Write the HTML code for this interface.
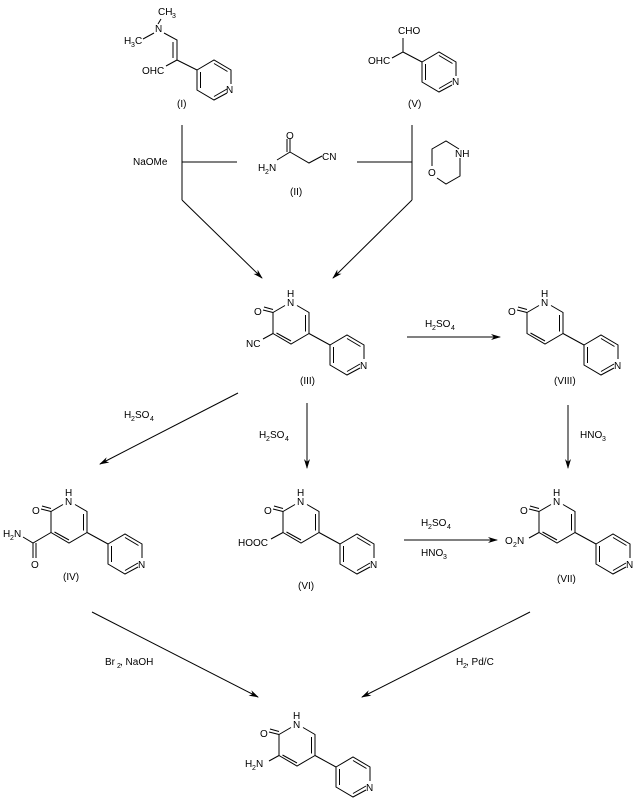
<!DOCTYPE html>
<html><head><meta charset="utf-8"><style>
html,body{margin:0;padding:0;background:#fff;}
svg{display:block;}
text{font-family:"Liberation Sans",sans-serif;font-size:10px;fill:#000;}
</style></head><body>
<svg width="634" height="806" viewBox="0 0 634 806" xmlns="http://www.w3.org/2000/svg">
<defs>
<marker id="ah" markerWidth="10" markerHeight="8" refX="9" refY="4" orient="auto" markerUnits="userSpaceOnUse">
<path d="M0,1 L10,4 L0,7 L3,4 Z" fill="#000"/>
</marker>
<g id="core" stroke="#000" stroke-width="1" fill="none">
<path d="M-18,-10.5 L-6,-17.5 M6,-17.5 L18,-10.5 L18,10.5 L0,21 L-18,10.5 L-18,-10.5"/>
<path d="M14.5,-8 L14.5,8.5 M-14.5,10 L0,18"/>
<path d="M-18,-10.5 L-28,-13 M-18,-13.5 L-27,-16"/>
<path d="M18,10.5 L39,22"/>
<path d="M39,22 L56,12 L73,22 L73,36 M69,45 L56,52 L39,42 L39,22"/>
<path d="M56,15.5 L69.5,23.5 M69,41 L56,48.5 M42.5,24 L42.5,40"/>
</g>
<g id="pyr" stroke="#000" stroke-width="1" fill="none">
<path d="M0,0 L17,-10 L34,0 L34,14 M30,23 L17,30 L0,20 L0,0"/>
<path d="M17,-6.5 L30.5,1.5 M30,19 L17,26.5 M3.5,2 L3.5,18"/>
</g>
</defs>

<!-- Compound I -->
<g stroke="#000" fill="none">
<path d="M164,33 L177,40 L177,60 M173,42 L173,58"/>
<path d="M154,33 L143,39"/>
<path d="M158,24 L161,19"/>
<path d="M177,60 L166,66"/>
<path d="M177,60 L197,70"/>
</g>
<use href="#pyr" x="197" y="70"/>
<text x="158" y="15">CH</text><text x="172" y="18" style="font-size:7px">3</text>
<text x="155" y="32">N</text>
<text x="124" y="44">H</text><text x="131" y="47" style="font-size:7px">3</text><text x="135" y="44">C</text>
<text x="142" y="74">OHC</text>
<text x="226" y="93">N</text>
<text x="177" y="107">(I)</text>

<!-- Compound V -->
<g stroke="#000" fill="none">
<path d="M403,38 L403,52 L392,58 M403,52 L422,62"/>
</g>
<use href="#pyr" x="422" y="62"/>
<text x="398" y="34">CHO</text>
<text x="368" y="64">OHC</text>
<text x="452" y="85">N</text>
<text x="408" y="107">(V)</text>

<!-- Compound II -->
<g stroke="#000" fill="none">
<path d="M277,160 L290,152 L290,139 M287,152 L287,139 M290,152 L309,163 L322,156"/>
</g>
<text x="258" y="171">H</text><text x="265" y="174" style="font-size:7px">2</text><text x="269" y="171">N</text>
<text x="286" y="139">O</text>
<text x="322" y="160">CN</text>
<text x="290" y="195">(II)</text>

<!-- Morpholine -->
<g stroke="#000" fill="none">
<path d="M459,149 L446,141 L432,149 L432,166 M437,178 L446,184 L460,176 L460,158"/>
</g>
<text x="455" y="157">NH</text>
<text x="428" y="176">O</text>

<g stroke="#000" fill="none">
<path d="M182,125 L182,200"/>
<path d="M182,162 L237,162"/>
<path d="M182,200 L262,278" marker-end="url(#ah)"/>
<path d="M412,125 L412,200"/>
<path d="M357,162 L412,162"/>
<path d="M412,200 L333,278" marker-end="url(#ah)"/>
<path d="M407,337 L500,337" marker-end="url(#ah)"/>
<path d="M238,393 L100,464" marker-end="url(#ah)"/>
<path d="M307,403 L307,468" marker-end="url(#ah)"/>
<path d="M568,405 L568,468" marker-end="url(#ah)"/>
<path d="M404,540 L497,540" marker-end="url(#ah)"/>
<path d="M92,612 L258,697" marker-end="url(#ah)"/>
<path d="M530,612 L362,697" marker-end="url(#ah)"/>
</g>
<text x="133" y="165">NaOMe</text>
<text x="425" y="327">H</text><text x="432" y="330" style="font-size:7px">2</text><text x="436" y="327">SO</text><text x="451" y="330" style="font-size:7px">4</text>
<text x="124" y="418">H</text><text x="131" y="421" style="font-size:7px">2</text><text x="135" y="418">SO</text><text x="150" y="421" style="font-size:7px">4</text>
<text x="259" y="438">H</text><text x="266" y="441" style="font-size:7px">2</text><text x="270" y="438">SO</text><text x="285" y="441" style="font-size:7px">4</text>
<text x="580" y="438">HNO</text><text x="602" y="441" style="font-size:7px">3</text>
<text x="421" y="526">H</text><text x="428" y="529" style="font-size:7px">2</text><text x="432" y="526">SO</text><text x="447" y="529" style="font-size:7px">4</text>
<text x="421" y="556">HNO</text><text x="443" y="559" style="font-size:7px">3</text>
<text x="105" y="665">Br</text><text x="117" y="668" style="font-size:7px">2</text><text x="120" y="665">, NaOH</text>
<text x="456" y="665">H</text><text x="463" y="668" style="font-size:7px">2</text><text x="466" y="665">, Pd/C</text>

<g transform="translate(291,323)"><use href="#core"/>
<path d="M-18,10.5 L-28,16" stroke="#000"/>
<text x="-37" y="-8">O</text><text x="-4" y="-17">N</text><text x="-4" y="-26">H</text>
<text x="69" y="46">N</text>
<text x="-45" y="24">NC</text>
<text x="9" y="61">(III)</text></g>

<g transform="translate(545,323)"><use href="#core"/>
<text x="-37" y="-8">O</text><text x="-4" y="-17">N</text><text x="-4" y="-26">H</text>
<text x="69" y="46">N</text>
<text x="9" y="61">(VIII)</text></g>

<g transform="translate(69,522)"><use href="#core"/>
<path d="M-18,10.5 L-36,21 L-46,15 M-36,21 L-36,36 M-33,21 L-33,36" stroke="#000" fill="none"/>
<text x="-37" y="-8">O</text><text x="-4" y="-17">N</text><text x="-4" y="-26">H</text>
<text x="69" y="46">N</text>
<text x="-66" y="15">H</text><text x="-59" y="18" style="font-size:7px">2</text><text x="-55" y="15">N</text>
<text x="-38" y="46">O</text>
<text x="-6" y="58">(IV)</text></g>

<g transform="translate(301,522)"><use href="#core"/>
<path d="M-18,10.5 L-30,17" stroke="#000"/>
<text x="-37" y="-8">O</text><text x="-4" y="-17">N</text><text x="-4" y="-26">H</text>
<text x="69" y="46">N</text>
<text x="-63" y="24">HOOC</text>
<text x="-3" y="67">(VI)</text></g>

<g transform="translate(557,522)"><use href="#core"/>
<path d="M-18,10.5 L-28,16" stroke="#000"/>
<text x="-37" y="-8">O</text><text x="-4" y="-17">N</text><text x="-4" y="-26">H</text>
<text x="69" y="46">N</text>
<text x="-52" y="22">O</text><text x="-44" y="25" style="font-size:7px">2</text><text x="-40" y="22">N</text>
<text x="0" y="60">(VII)</text></g>

<g transform="translate(297,745)"><use href="#core"/>
<path d="M-18,10.5 L-28,16" stroke="#000"/>
<text x="-37" y="-8">O</text><text x="-4" y="-17">N</text><text x="-4" y="-26">H</text>
<text x="69" y="46">N</text>
<text x="-52" y="22">H</text><text x="-45" y="25" style="font-size:7px">2</text><text x="-41" y="22">N</text></g>
</svg>
</body></html>
